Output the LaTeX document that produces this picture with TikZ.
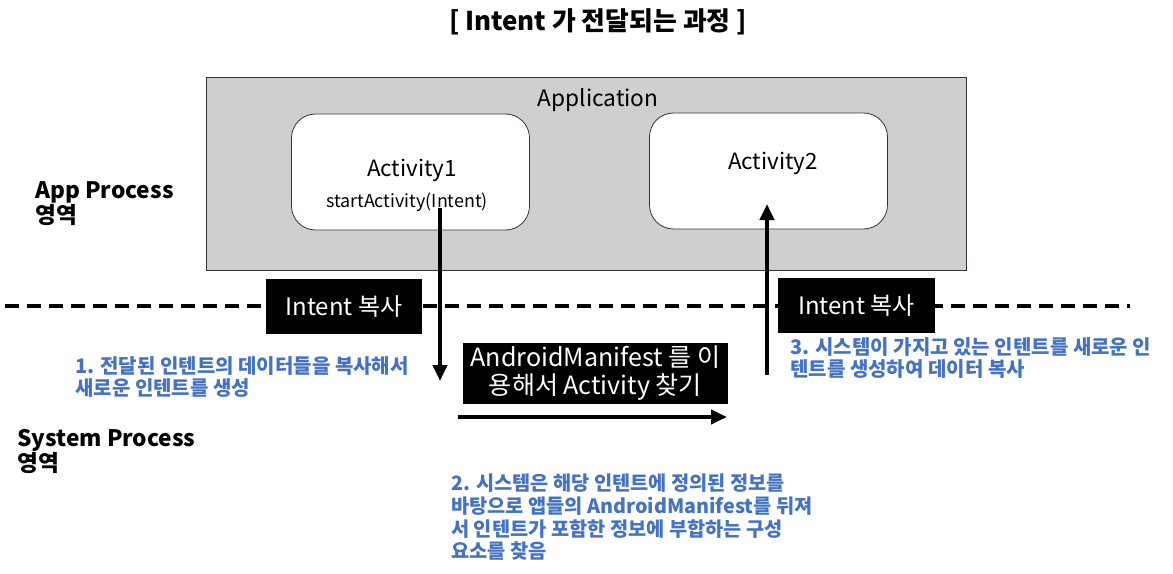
\documentclass[tikz,border=0pt]{standalone}
\usepackage{fontspec}
\setmainfont{Noto Sans CJK KR}
\usetikzlibrary{arrows.meta}
\definecolor{appgray}{HTML}{D0CECE}
\definecolor{noteblue}{HTML}{4472C4}
\tikzset{
  appbox/.style={draw=black!80, line width=0.6pt, fill=appgray, minimum width=570pt, minimum height=144.75pt, inner sep=0pt},
  actbox/.style={draw=black!80, line width=0.6pt, fill=white, rounded corners=18pt, minimum width=178.5pt, minimum height=87pt, inner sep=0pt},
  blackbox/.style={fill=black, text=white, inner sep=0pt, font=\fontsize{18}{20}\selectfont, align=center},
  note/.style={text=noteblue, font=\bfseries\fontsize{15}{17}\selectfont, align=left, anchor=north west, inner sep=0pt},
  side/.style={font=\bfseries\fontsize{17}{18.75}\selectfont, align=left, anchor=north west, inner sep=0pt},
  flow/.style={line width=3pt, -{Triangle[width=10.5pt,length=12pt]}},
  divider/.style={line width=3pt, dash pattern=on 10.5pt off 6pt},
}
\begin{document}
\begin{tikzpicture}[x=0.75pt,y=-0.75pt]
\useasboundingbox (0,0) rectangle (1173,574);
% title
\node[font=\bfseries\fontsize{19.4}{22}\selectfont] (title) at (598,22) {[ Intent 가 전달되는 과정 ]};
% divider
\coordinate (dl) at (5,306);
\coordinate (dr) at (1130,306);
\draw[divider] (dl) -- (dr);
% application
\node[appbox] (app) at (586,173.5) {};
\node[font=\fontsize{17}{20}\selectfont] (applabel) at (598,100) {Application};
\node[actbox] (act1) at (410.5,172) {};
\node[actbox] (act2) at (768.5,171) {};
\node[font=\fontsize{16.8}{20}\selectfont] (act1t) at (412,170) {Activity1};
\node[font=\fontsize{13.4}{15}\selectfont] (act1s) at (407,202) {startActivity(Intent)};
\node[font=\fontsize{16.8}{20}\selectfont] (act2t) at (773,163) {Activity2};
% side labels
\node[side] (appproc) at (35,181) {App Process\\영역};
\node[side] (sysproc) at (17,429) {System Process\\영역};
% black boxes
\node[blackbox, minimum width=117pt, minimum height=41.25pt] (copy1) at (344,306.5) {Intent 복사};
\node[blackbox, minimum width=117.75pt, minimum height=41.25pt] (copy2) at (856.5,305.5) {Intent 복사};
\node[blackbox, minimum width=198.75pt, minimum height=45.75pt, font=\fontsize{18.8}{21}\selectfont] (mani) at (595.5,373) {AndroidManifest 를 이\\용해서 Activity 찾기};
% arrows
\coordinate (d1) at (440,208);
\coordinate (d2) at (440,381);
\draw[flow] (d1) -- (d2);
\coordinate (u1) at (767,375);
\coordinate (u2) at (767,204);
\draw[flow] (u1) -- (u2);
\coordinate (r1) at (458,417);
\coordinate (r2) at (727,417);
\draw[flow] (r1) -- (r2);
% notes
\node[note] (n1) at (75,356) {1. 전달된 인텐트의 데이터들을 복사해서\\새로운 인텐트를 생성};
\node[note] (n3) at (790,337) {3. 시스템이 가지고 있는 인텐트를 새로운 인\\텐트를 생성하여 데이터 복사};
\node[note, font=\bfseries\fontsize{14.8}{17}\selectfont] (n2) at (451,474) {2. 시스템은 해당 인텐트에 정의된 정보를\\바탕으로 앱들의 AndroidManifest를 뒤져\\서 인텐트가 포함한 정보에 부합하는 구성\\요소를 찾음};
\end{tikzpicture}
\end{document}
